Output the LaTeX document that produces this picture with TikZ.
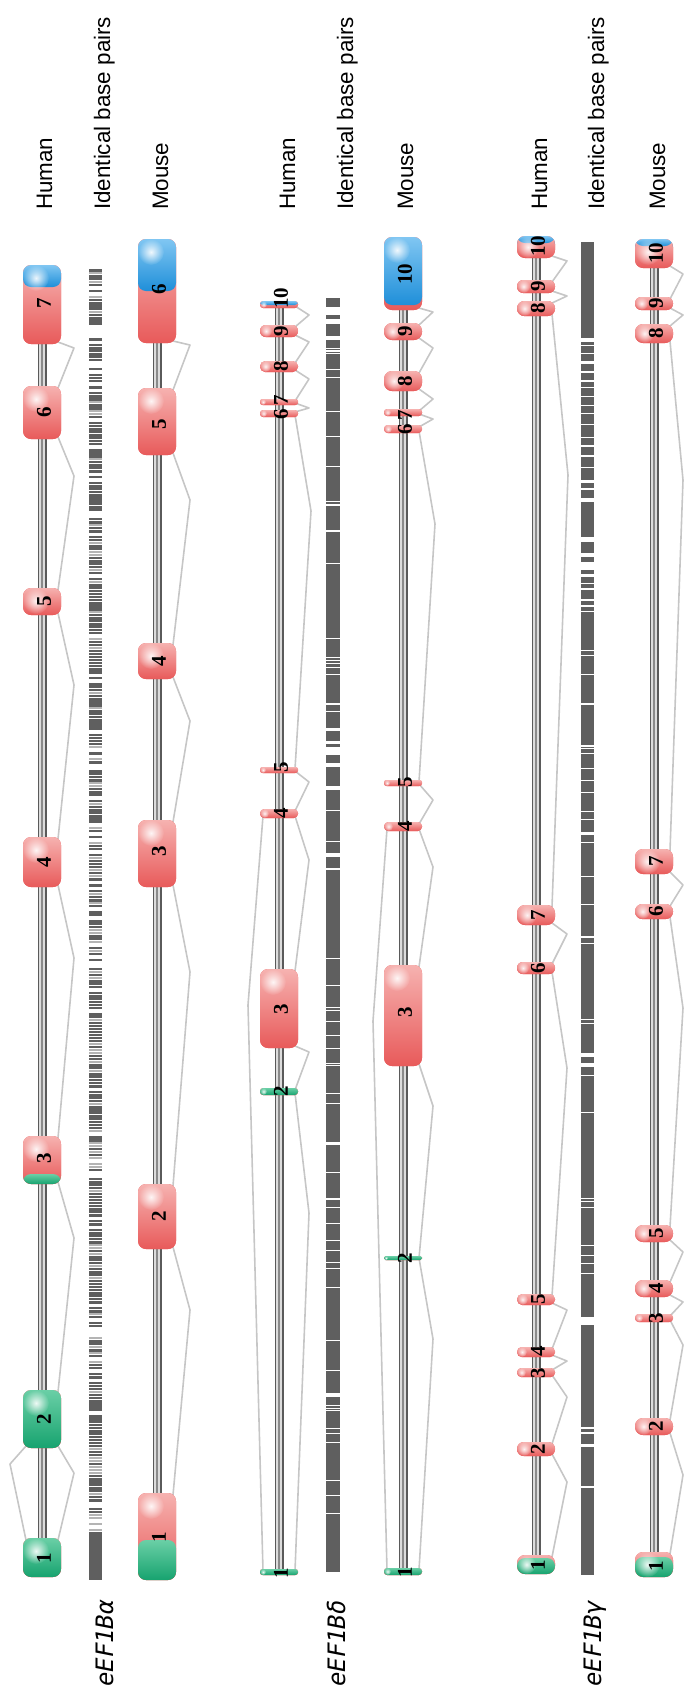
\documentclass[tikz,border=0pt]{standalone}
\usepackage{fontspec}
\setmainfont{Liberation Sans}
\newfontfamily\numfont{Liberation Serif}
\newfontfamily\genefont{DejaVu Sans Mono}
\usetikzlibrary{fadings}
\pgfdeclarelayer{bg}
\pgfsetlayers{bg,main}
\definecolor{pinkT}{HTML}{F6B2B0}
\definecolor{pinkB}{HTML}{E85A5A}
\definecolor{blueT}{HTML}{80C6F2}
\definecolor{blueB}{HTML}{1F8FD9}
\definecolor{greenT}{HTML}{6ACFA6}
\definecolor{greenB}{HTML}{17A36F}
\definecolor{bard}{HTML}{5F5F5F}
\definecolor{barl}{HTML}{B4B4B4}
\definecolor{intrc}{HTML}{C6C6C6}
\definecolor{glD}{HTML}{5A5A5A}
\definecolor{glL}{HTML}{DCDCDC}
\definecolor{glM}{HTML}{8A8A8A}
\tikzfading[name=glow, inner color=transparent!10, outer color=transparent!100]
\newcommand\mkexon[8]{%
 \pgfmathsetmacro\exh{#4-#3}%
 \pgfmathsetmacro\exc{(#3+#4)/2}%
 \pgfmathsetmacro\exr{min(8,\exh/2-0.3)}%
 \pgfmathsetmacro\exhr{min(13,\exh*0.5)}%
 \def\exblue{#5}\def\exgreen{#6}%
 \node[exon, minimum height=\exh pt, rounded corners=\exr pt] (#1) at (#2,\exc) {};%
 \node[exonnum] (#1l) at (#2+2,#8) {\rotatebox{90}{#7}};%
}
\newcommand\ihat[3]{\draw[intr] ([xshift=-3pt,yshift=2pt]#1.south east) -- (#3) -- ([xshift=-3pt,yshift=-2pt]#2.north east);}
\newcommand\ihatL[3]{\draw[intr] ([xshift=3pt,yshift=2pt]#1.south west) -- (#3) -- ([xshift=3pt,yshift=-2pt]#2.north west);}
\newcommand\geneline[2]{%
 \draw[line width=9pt, glD] (#1.center) -- (#2.center);
 \draw[line width=5.5pt, glL] (#1.center) -- (#2.center);
 \draw[line width=2pt, glM] (#1.center) -- (#2.center);}
\begin{document}
\begin{tikzpicture}[x=1pt,y=-1pt,
 exon/.style={fill=pinkB, inner sep=0pt, outer sep=0pt, minimum width=38pt,
   path picture={
    \shade[top color=pinkT, bottom color=pinkB] (path picture bounding box.south west) rectangle (path picture bounding box.north east);
    \ifdim\exblue pt>0pt \shade[top color=blueT, bottom color=blueB] (path picture bounding box.north west) rectangle ([yshift=-\exblue pt]path picture bounding box.north east);\fi
    \ifdim\exgreen pt>0pt \shade[top color=greenT, bottom color=greenB] ([yshift=\exgreen pt]path picture bounding box.south west) rectangle (path picture bounding box.south east);\fi
    \fill[white, path fading=glow] ([xshift=\exhr pt,yshift=-\exhr pt]path picture bounding box.north west) circle (\exhr pt);
   }},
 exonnum/.style={font=\numfont\bfseries\fontsize{21}{21}\selectfont, inner sep=0pt},
 lab/.style={font=\fontsize{22.4}{26}\selectfont, rotate=90, inner sep=0pt, anchor=base west},
 gname/.style={font=\genefont\itshape\fontsize{24}{26}\selectfont, rotate=90, inner sep=0pt, anchor=base west},
 intr/.style={draw=intrc, line width=1.6pt, line join=round},
]
\useasboundingbox (0,0) rectangle (684,1692);

% column labels
\node[lab] (tHa) at (52,210) {Human};
\node[lab] (tIa) at (110,210) {Identical base pairs};
\node[lab] (tMa) at (168,210) {Mouse};
\node[lab] (tHd) at (295,210) {Human};
\node[lab] (tId) at (353,210) {Identical base pairs};
\node[lab] (tMd) at (413,210) {Mouse};
\node[lab] (tHg) at (547,210) {Human};
\node[lab] (tIg) at (604,210) {Identical base pairs};
\node[lab] (tMg) at (665,210) {Mouse};

% gene names
\node[gname] (nA) at (113,1687) {eEF1Bα};
\node[gname] (nD) at (345,1687) {eEF1Bδ};
\node[gname] (nG) at (601,1687) {eEF1Bγ};

% identical base pair bars
\pgfmathsetseed{12345}
\foreach \k in {0,...,420}{%
 \pgfmathsetmacro\yy{269+3*\k}%
 \pgfmathsetmacro\rr{rnd}%
 \ifdim\rr pt<0.45pt \fill[bard] (89,\yy) rectangle (102,\yy+2);\fi
 \ifdim\rr pt>0.45pt \ifdim\rr pt<0.66pt \fill[bard] (89,\yy) rectangle (102,\yy+3);\fi\fi
 \ifdim\rr pt>0.66pt \ifdim\rr pt<0.84pt \fill[barl] (89,\yy) rectangle (102,\yy+2);\fi\fi
}
\fill[bard] (89,1532) rectangle (102,1580);

\fill[bard] (326,298) rectangle (340,1572);
\foreach \a/\b in {307/8, 318.5/5.5, 335.5/4.5, 347.6/1.2, 350.3/1.2, 353/1.2, 369/1, 376.5/1.3, 411/1.3, 435.8/1.3, 465.5/1.3, 500.7/1.3, 504/2, 530/1.5, 562.5/1.3, 637.5/1.3, 657/1.3, 660/1.3, 663/1.3, 667/1.3, 674/1.3, 703/1.5, 711/1.3, 728/2.5, 741/2.5, 747/8, 762.5/4.5, 786/4, 810/1.3, 841/1.3, 852.5/4, 868/1.5, 957.5/1.3, 985/1.3, 1007/1.3, 1009.5/1.3, 1020.5/1.3, 1035/1.3, 1047.5/1.3, 1062.7/1.3, 1064.5/1.3, 1093/1.3, 1103/1.3, 1141.7/3.3, 1171.7/1.3, 1198/2, 1206.7/1.3, 1223/1.3, 1240/1.3, 1250/1.3, 1261.7/1.3, 1268/1.3, 1286.7/1.3, 1340/1.3, 1370/1.3, 1393/4, 1405/1.3, 1407.5/1.3, 1410/1.3, 1428/1.3, 1433/1.3, 1442/1.3, 1480/1.3, 1495/1.3, 1513/1.3}
 {\fill[white] (326,\a) rectangle (340,\a+\b);}

\fill[bard] (581,241.5) rectangle (594,1575);
\foreach \a/\b in {338/3.5, 345/1, 352.5/1.3, 360.7/3, 370.7/2, 380/1.7, 387/1.3, 396/1.3, 405/1.3, 412.7/1.3, 424/1.3, 436.7/1.5, 445/1.7, 455/1.5, 466.7/1.3, 480/3, 488/1.5, 498/3.5, 537/5, 553/4, 562/8, 574/3, 582.5/1.3, 588/2, 599/1.5, 605/1.5, 611/1.3, 650/1.3, 655/1.3, 674/1.3, 703/1.5, 745/2, 748/1, 753/1.3, 768/1.3, 780/1.3, 791.7/1.3, 810.7/1.3, 819/1.3, 831.7/3.3, 841.7/1.3, 876/1.3, 904/1.3, 936/2, 943/1.3, 1019/1.3, 1022.7/1.3, 1053/3.5, 1063/4, 1075/1.3, 1111.7/1.3, 1198/1.3, 1200.7/1.3, 1206.7/1.3, 1245/1.3, 1255/1.3, 1263/1.3, 1273/1.3, 1317/8, 1427/2, 1432/1.5, 1444/3, 1486/1.5}
 {\fill[white] (581,\a) rectangle (594,\a+\b);}

% exons: name, x, top, bottom, blue height, green height, label, label y
\mkexon{aH1}{42}{1538}{1577}{0}{39}{1}{1558}
\mkexon{aH2}{42}{1390}{1448}{0}{58}{2}{1419}
\mkexon{aH3}{42}{1136}{1184}{0}{10}{3}{1158}
\mkexon{aH4}{42}{837}{887}{0}{0}{4}{862}
\mkexon{aH5}{42}{588}{615}{0}{0}{5}{601}
\mkexon{aH6}{42}{386}{439}{0}{0}{6}{412}
\mkexon{aH7}{42}{265}{344}{22}{0}{7}{303}

\mkexon{aM1}{157}{1493}{1580}{0}{40}{1}{1537}
\mkexon{aM2}{157}{1184}{1249}{0}{0}{2}{1216}
\mkexon{aM3}{157}{820}{887}{0}{0}{3}{851}
\mkexon{aM4}{157}{643}{679}{0}{0}{4}{661}
\mkexon{aM5}{157}{388}{455}{0}{0}{5}{424}
\mkexon{aM6}{157}{239}{343}{52}{0}{6}{289}

\mkexon{dH1}{279}{1569}{1575}{0}{6}{1}{1573}
\mkexon{dH2}{279}{1088}{1095}{0}{7}{2}{1091}
\mkexon{dH3}{279}{969}{1048}{0}{0}{3}{1009}
\mkexon{dH4}{279}{809}{818}{0}{0}{4}{813}
\mkexon{dH5}{279}{767}{773}{0}{0}{5}{767}
\mkexon{dH6}{279}{410}{417}{0}{0}{6}{414.5}
\mkexon{dH7}{279}{399}{405}{0}{0}{7}{400.5}
\mkexon{dH8}{279}{361}{372}{0}{0}{8}{366}
\mkexon{dH9}{279}{325}{337}{0}{0}{9}{331}
\mkexon{dH10}{279}{301}{308}{4}{0}{10}{298}

\mkexon{dM1}{403}{1568}{1575}{0}{7}{1}{1572}
\mkexon{dM2}{403}{1256}{1260}{0}{4}{2}{1258}
\mkexon{dM3}{403}{965}{1066}{0}{0}{3}{1012}
\mkexon{dM4}{403}{822}{831}{0}{0}{4}{826}
\mkexon{dM5}{403}{780}{786}{0}{0}{5}{782}
\mkexon{dM6}{403}{425}{433}{0}{0}{6}{429.5}
\mkexon{dM7}{403}{409}{416}{0}{0}{7}{415.5}
\mkexon{dM8}{403}{371}{391}{0}{0}{8}{381}
\mkexon{dM9}{403}{323}{340}{0}{0}{9}{331}
\mkexon{dM10}{403}{237}{310}{68}{0}{10}{274}

\mkexon{gH1}{536}{1555}{1574}{0}{16}{1}{1565}
\mkexon{gH2}{536}{1442}{1456}{0}{0}{2}{1449}
\mkexon{gH3}{536}{1368}{1377}{0}{0}{3}{1373}
\mkexon{gH4}{536}{1347}{1357}{0}{0}{4}{1351}
\mkexon{gH5}{536}{1294}{1305}{0}{0}{5}{1299}
\mkexon{gH6}{536}{962}{974}{0}{0}{6}{968}
\mkexon{gH7}{536}{905}{925}{0}{0}{7}{915}
\mkexon{gH8}{536}{301}{316}{0}{0}{8}{308}
\mkexon{gH9}{536}{280}{293}{0}{0}{9}{286}
\mkexon{gH10}{536}{236}{258}{7}{0}{10}{246}

\mkexon{gM1}{654}{1552}{1577}{0}{20}{1}{1566}
\mkexon{gM2}{654}{1418}{1435}{0}{0}{2}{1426}
\mkexon{gM3}{654}{1314}{1322}{0}{0}{3}{1318}
\mkexon{gM4}{654}{1280}{1297}{0}{0}{4}{1288}
\mkexon{gM5}{654}{1225}{1242}{0}{0}{5}{1233}
\mkexon{gM6}{654}{904}{919}{0}{0}{6}{911}
\mkexon{gM7}{654}{849}{874}{0}{0}{7}{861}
\mkexon{gM8}{654}{324}{343}{0}{0}{8}{333}
\mkexon{gM9}{654}{297}{310}{0}{0}{9}{303}
\mkexon{gM10}{654}{239}{268}{7}{0}{10}{253}

\begin{pgfonlayer}{bg}
\geneline{aH7}{aH1}
\geneline{aM6}{aM1}
\geneline{dH10}{dH1}
\geneline{dM10}{dM1}
\geneline{gH10}{gH1}
\geneline{gM10}{gM1}

\ihat{aH7}{aH6}{74,348}
\ihat{aH6}{aH5}{74,476}
\ihat{aH5}{aH4}{74,685}
\ihat{aH4}{aH3}{74,958}
\ihat{aH3}{aH2}{74,1238}
\ihat{aH2}{aH1}{74,1473}
\ihatL{aH2}{aH1}{10,1464}

\ihat{aM6}{aM5}{190,345}
\ihat{aM5}{aM4}{190,500}
\ihat{aM4}{aM3}{190,721}
\ihat{aM3}{aM2}{190,972}
\ihat{aM2}{aM1}{190,1310}

\ihat{dH10}{dH9}{309,315}
\ihat{dH9}{dH8}{309,342}
\ihat{dH8}{dH7}{309,379}
\ihat{dH7}{dH6}{309,408}
\ihat{dH6}{dH5}{311,511}
\ihat{dH5}{dH4}{309,782}
\ihat{dH4}{dH3}{309,860}
\ihat{dH3}{dH2}{309,1052}
\ihat{dH2}{dH1}{309,1213}
\ihatL{dH4}{dH1}{248,1005}

\ihat{dM10}{dM9}{433,312}
\ihat{dM9}{dM8}{433,348}
\ihat{dM8}{dM7}{433,399}
\ihat{dM7}{dM6}{433,419}
\ihat{dM6}{dM5}{435,524}
\ihat{dM5}{dM4}{433,800}
\ihat{dM4}{dM3}{433,867}
\ihat{dM3}{dM2}{433,1106}
\ihat{dM2}{dM1}{433,1339}
\ihatL{dM4}{dM1}{373,1021}

\ihat{gH10}{gH9}{567,261}
\ihat{gH9}{gH8}{567,296}
\ihat{gH8}{gH7}{568,475}
\ihat{gH7}{gH6}{567,934}
\ihat{gH6}{gH5}{567,1068}
\ihat{gH5}{gH4}{567,1310}
\ihat{gH4}{gH3}{567,1361}
\ihat{gH3}{gH2}{567,1397}
\ihat{gH2}{gH1}{567,1482}

\ihat{gM10}{gM9}{683,274}
\ihat{gM9}{gM8}{683,315}
\ihat{gM8}{gM7}{683,480}
\ihat{gM7}{gM6}{683,885}
\ihat{gM6}{gM5}{683,1008}
\ihat{gM5}{gM4}{683,1252}
\ihat{gM4}{gM3}{683,1302}
\ihat{gM3}{gM2}{683,1345}
\ihat{gM2}{gM1}{683,1475}
\end{pgfonlayer}
\end{tikzpicture}
\end{document}
